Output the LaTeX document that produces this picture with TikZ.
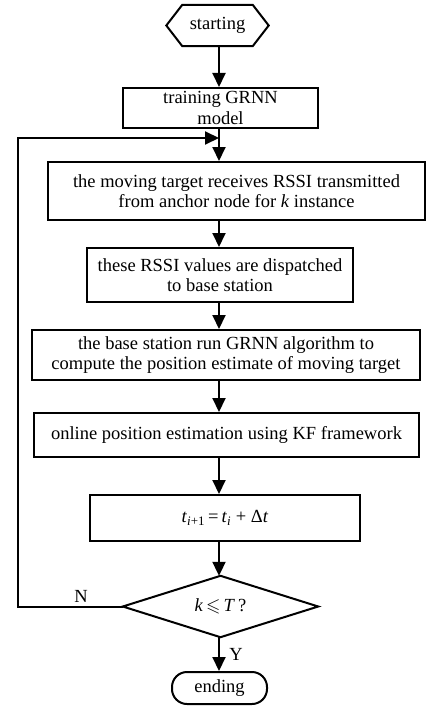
\documentclass[tikz,border=0pt]{standalone}
\usepackage{fontspec}
\setmainfont{Liberation Serif}
\usepackage{amssymb}
\usetikzlibrary{arrows.meta,calc}
\begin{document}
\begin{tikzpicture}[x=1pt,y=-1pt,
  txt/.style={font=\fontsize{18.5}{20.5}\selectfont},
  box/.style={txt,draw,line width=2pt,align=center,inner sep=0pt},
  plain/.style={txt,inner sep=0pt,align=center},
  ln/.style={line width=2pt},
  arr/.style={line width=2pt,-{Triangle[length=14pt,width=13pt]}},
  lab/.style={txt,inner sep=0pt}]
\useasboundingbox (0,0) rectangle (429,706);
\coordinate (j) at (219,138);
% start hexagon
\node[plain,minimum width=102pt,minimum height=41pt] (start) at (217.5,25.5) {starting};
\draw[ln,line join=miter] (start.west) -- ($(start.north west)+(16,0)$) -- ($(start.north east)+(-16,0)$)
  -- (start.east) -- ($(start.south east)+(-16,0)$) -- ($(start.south west)+(16,0)$) -- cycle;
\node[box,minimum width=195pt,minimum height=40pt] (train) at (220.5,108) {training GRNN\\model};
\node[box,minimum width=377pt,minimum height=58pt] (rx) at (236.5,191) {the moving target receives RSSI transmitted\\from anchor node for \textit{k} instance};
\node[box,minimum width=266pt,minimum height=54pt] (disp) at (220,275) {these RSSI values are dispatched\\to base station};
\node[box,minimum width=388pt,minimum height=50pt] (gr) at (226,355) {the base station run GRNN algorithm to\\compute the position estimate of moving target};
\node[box,minimum width=385pt,minimum height=44pt] (kf) at (226.5,435) {online position estimation using KF framework};
\node[box,minimum width=270pt,minimum height=46pt] (upd) at (225,518) {\textit{t}\textsubscript{\textit{i}+1}\,=\,\textit{t}\textsubscript{\textit{i}} + Δ\textit{t}};
% decision
\node[plain,minimum width=195pt,minimum height=61pt] (dec) at (220.5,606.5) {\textit{k}\,$\leqslant$\,\textit{T}\,?};
\draw[ln,line join=miter] (dec.west) -- (dec.north) -- (dec.east) -- (dec.south) -- cycle;
\node[box,rounded corners=15pt,minimum width=95pt,minimum height=32pt] (end) at (219.5,688) {ending};
% arrows
\draw[arr] (start.south -| j) -- (train.north -| j);
\draw[ln] (train.south -| j) -- (j);
\draw[arr] (j) -- (rx.north -| j);
\draw[arr] (rx.south -| j) -- (disp.north -| j);
\draw[arr] (disp.south -| j) -- (gr.north -| j);
\draw[arr] (gr.south -| j) -- (kf.north -| j);
\draw[arr] (kf.south -| j) -- (upd.north -| j);
\draw[arr] (upd.south -| j) -- (dec.north -| j);
\draw[arr] (dec.south -| j) -- (end.north -| j);
\coordinate (lb) at (18,606.5);
\draw[arr,line join=miter] (dec.west) -- (lb) -- (lb |- j) -- (j);
\node[lab] (nlab) at (81,596) {N};
\node[lab] (ylab) at (236,654) {Y};
\end{tikzpicture}
\end{document}
